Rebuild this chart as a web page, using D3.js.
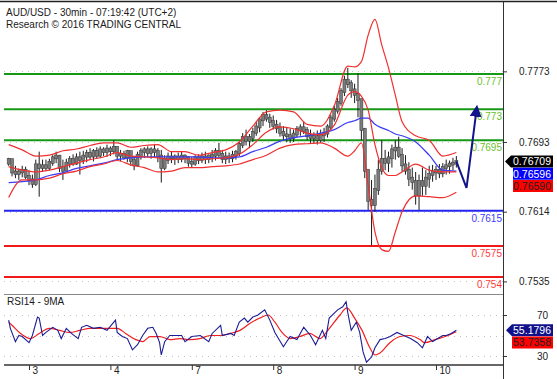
<!DOCTYPE html>
<html><head><meta charset="utf-8">
<script src="https://cdn.jsdelivr.net/npm/d3@7"></script>
<style>body{margin:0;background:#fff}svg{display:block;font-family:"Liberation Sans",Arial,sans-serif}</style>
</head><body><svg id="c" width="557" height="379"></svg>
<script>
const titleText = "AUD/USD - 30min - 07:19:42 (UTC+2)";
const subtitleText = "Research © 2016 TRADING CENTRAL";
const rsiTitle = "RSI14 - 9MA";
const dayLabels = ["3","4","7","8","9","10"];
const dayIdx = [6,30,54,78,102,126];
const priceTicks = [0.7773,0.7693,0.7614,0.7535];
const rsiTicks = [70,30];
const rsiGrid = [70,50,30];

const firstOpen = 0.7669;
const high = [0.7675,0.7673,0.7666,0.7663,0.7666,0.7665,0.7661,0.7656,0.7673,0.7682,
0.7673,0.7673,0.7674,0.7678,0.7682,0.7678,0.7673,0.7674,0.7677,0.7679,
0.7680,0.7682,0.7683,0.7684,0.7686,0.7685,0.7687,0.7688,0.7687,0.7690,
0.7688,0.7695,0.7686,0.7684,0.7683,0.7684,0.7682,0.7677,0.7682,0.7686,
0.7687,0.7688,0.7687,0.7690,0.7686,0.7684,0.7678,0.7681,0.7682,0.7679,
0.7681,0.7682,0.7679,0.7677,0.7676,0.7678,0.7679,0.7681,0.7682,0.7679,
0.7684,0.7686,0.7692,0.7684,0.7682,0.7681,0.7683,0.7684,0.7693,0.7703,
0.7707,0.7702,0.7709,0.7716,0.7721,0.7727,0.7729,0.7725,0.7723,0.7718,
0.7715,0.7711,0.7709,0.7708,0.7707,0.7711,0.7713,0.7716,0.7710,0.7707,
0.7704,0.7706,0.7707,0.7709,0.7713,0.7724,0.7734,0.7743,0.7754,0.7768,
0.7777,0.7763,0.7759,0.7771,0.7741,0.7709,0.7661,0.7650,0.7656,0.7673,
0.7695,0.7684,0.7682,0.7690,0.7695,0.7699,0.7686,0.7678,0.7670,0.7664,
0.7659,0.7656,0.7664,0.7661,0.7666,0.7667,0.7666,0.7668,0.7669,0.7673,
0.7672,0.7675,0.7677];
const low = [0.7666,0.7654,0.7652,0.7650,0.7653,0.7651,0.7644,0.7641,0.7643,0.7631,
0.7659,0.7660,0.7661,0.7666,0.7669,0.7659,0.7650,0.7659,0.7664,0.7666,
0.7667,0.7656,0.7668,0.7670,0.7673,0.7671,0.7674,0.7675,0.7677,0.7676,
0.7677,0.7679,0.7673,0.7671,0.7673,0.7670,0.7666,0.7661,0.7665,0.7673,
0.7675,0.7676,0.7674,0.7675,0.7670,0.7647,0.7661,0.7668,0.7669,0.7667,
0.7669,0.7670,0.7669,0.7665,0.7664,0.7666,0.7668,0.7669,0.7668,0.7669,
0.7670,0.7672,0.7675,0.7669,0.7668,0.7669,0.7670,0.7673,0.7677,0.7686,
0.7689,0.7686,0.7693,0.7700,0.7704,0.7711,0.7716,0.7709,0.7707,0.7703,
0.7699,0.7695,0.7693,0.7692,0.7693,0.7698,0.7700,0.7702,0.7695,0.7692,
0.7691,0.7690,0.7692,0.7693,0.7698,0.7707,0.7716,0.7725,0.7734,0.7745,
0.7754,0.7743,0.7737,0.7721,0.7695,0.7652,0.7616,0.7576,0.7614,0.7633,
0.7656,0.7661,0.7659,0.7664,0.7673,0.7675,0.7659,0.7656,0.7643,0.7639,
0.7622,0.7616,0.7632,0.7633,0.7641,0.7648,0.7650,0.7652,0.7653,0.7656,
0.7657,0.7661,0.7664];
const close = [0.7673,0.7659,0.7657,0.7659,0.7661,0.7654,0.7650,0.7646,0.7667,0.7664,
0.7666,0.7664,0.7670,0.7675,0.7677,0.7664,0.7661,0.7669,0.7673,0.7669,
0.7675,0.7673,0.7677,0.7680,0.7677,0.7682,0.7678,0.7684,0.7682,0.7685,
0.7683,0.7687,0.7678,0.7679,0.7676,0.7682,0.7672,0.7667,0.7678,0.7682,
0.7684,0.7681,0.7684,0.7682,0.7677,0.7664,0.7673,0.7676,0.7675,0.7676,
0.7674,0.7677,0.7675,0.7670,0.7669,0.7675,0.7673,0.7676,0.7674,0.7677,
0.7678,0.7682,0.7679,0.7674,0.7676,0.7675,0.7678,0.7681,0.7690,0.7698,
0.7695,0.7698,0.7704,0.7710,0.7718,0.7723,0.7720,0.7716,0.7712,0.7709,
0.7704,0.7701,0.7700,0.7698,0.7702,0.7707,0.7709,0.7706,0.7700,0.7698,
0.7699,0.7696,0.7701,0.7703,0.7710,0.7720,0.7729,0.7738,0.7750,0.7763,
0.7759,0.7752,0.7747,0.7741,0.7707,0.7661,0.7627,0.7622,0.7639,0.7661,
0.7673,0.7670,0.7675,0.7684,0.7686,0.7678,0.7667,0.7661,0.7652,0.7648,
0.7633,0.7648,0.7644,0.7652,0.7656,0.7659,0.7661,0.7658,0.7664,0.7666,
0.7668,0.7669,0.76709];

const bandIdx = [0,4,8,12,16,20,24,28,32,36,40,44,48,52,56,60,64,68,72,76,80,84,88,92,96,100,102,104,106,108,110,112,114,116,120,124,128,132];
const bbUpper = [0.7690,0.7684,0.7677,0.7678,0.7683,0.7685,0.7689,0.7692,0.7692,0.7687,0.7689,0.7690,0.7682,0.7682,0.7678,0.7681,0.7684,0.7693,0.7711,0.7727,0.7729,0.7727,0.7713,0.7711,0.7734,0.7779,0.7778,0.7784,0.7814,0.7832,0.7803,0.7777,0.7746,0.7716,0.7700,0.7695,0.7677,0.7681];
const bbMiddle = [0.7665,0.7661,0.7659,0.7661,0.7665,0.7669,0.7673,0.7676,0.7681,0.7677,0.7676,0.7675,0.7673,0.7674,0.7673,0.7674,0.7675,0.7679,0.7690,0.7704,0.7710,0.7708,0.7703,0.7701,0.7712,0.7746,0.7750,0.7745,0.7729,0.7690,0.7664,0.7655,0.7655,0.7659,0.7668,0.7661,0.7659,0.7659];
const bbLower = [0.7630,0.7650,0.7650,0.7652,0.7657,0.7660,0.7665,0.7668,0.7672,0.7667,0.7664,0.7659,0.7660,0.7664,0.7664,0.7665,0.7666,0.7668,0.7673,0.7678,0.7686,0.7690,0.7691,0.7692,0.7686,0.7677,0.7683,0.7692,0.7644,0.7591,0.7571,0.7569,0.7591,0.7614,0.7632,0.7631,0.7630,0.7636];
const maBlue = [0.7647,0.7648,0.7650,0.7655,0.7658,0.7663,0.7666,0.7669,0.7673,0.7675,0.7676,0.7676,0.7676,0.7676,0.7676,0.7675,0.7675,0.7676,0.7682,0.7687,0.7694,0.7698,0.7700,0.7703,0.7707,0.7715,0.7717,0.7720,0.7720,0.7713,0.7709,0.7706,0.7702,0.7700,0.7693,0.7678,0.7661,0.7660];

const levels = [0.777,0.773,0.7695,0.7615,0.7575,0.754];
const levelLabels = ["0.777","0.773","0.7695","0.7615","0.7575","0.754"];
const levelKinds = ["r","r","r","p","s","s"];

const lastLabels = ["0.76709","0.76596","0.76590"];

const forecastIdx = [132,135,138];
const forecastPrice = [0.76709,0.7641,0.7731];

const rsiIdx = [0,0.5,2,3,4,6,7,8.5,9,10,11,13,14.5,15.5,17,18.5,20.5,21.5,23,25,27,29,31.5,32,33.5,35,36.5,38,39.5,41,42.5,43.5,44.5,45,46,47.5,49.5,51,52,54,56.5,59,60,62.5,63,65.5,66.5,68,69.5,70.5,72,73.5,75.5,77,78.5,81,83,85,87,89,90.5,92.5,93.5,94.5,97,98.5,99.5,100,101,102.5,103.5,104.5,105.5,107,108,109.5,111,112.5,114.5,116.5,118.5,120.5,122,123.5,125,126.5,128,129,130.5,132];
const rsiVals = [65,57,44,50,49,43,50,68,67,50,53,58,55,47,57,52,47,58,60,57,58,55,65,53,49,47,36,41,50,57,58,52,43,31,44,50,50,50,44,49,50,44,52,60,50,52,50,63,67,63,68,70,75,65,53,39,49,46,58,50,41,55,47,67,75,78,83,72,55,63,53,34,24,29,38,46,47,49,53,50,47,43,38,49,44,47,50,50,52,55.1796];
const rsiMaIdx = [0,1,3.5,6.5,9,12,15,18,21,24,27,32,34.5,37.5,39.5,41.7,44.6,47.6,50.5,53.5,56.4,59.4,62.3,65.3,68.2,71.2,74.1,76.5,78.5,80.6,83,85.9,88.8,91.8,94.1,97.7,99.7,102,104.2,106.5,108,109.5,112.4,115.4,118.3,121.3,122.7,125.7,128.7,132];
const rsiMaVals = [63,60,52,47,52,57,55,53,55,57,57,57,52,46,44,49,49,46,47,46,47,50,50,52,55,62,67,70,63,53,47,49,52,47,55,70,77,67,55,38,31,33,43,49,50,46,43,46,49,53.7358];
const rsiLastLabels = ["55.1796","53.7358"];

// ---------- drawing ----------
const svg = d3.select("#c");
const R = 503;
const L = 4;
const x = d3.scaleLinear().domain([6,126]).range([29,436]);
const y = d3.scaleLinear().domain([0.754,0.777]).range([277,74]);
const yr = d3.scaleLinear().domain([30,70]).range([356,315]);

svg.append("rect").attr("width",557).attr("height",379).attr("fill","#fff");
const defs = svg.append("defs");
defs.append("clipPath").attr("id","mainclip")
  .append("rect").attr("x",L).attr("y",3).attr("width",R-L).attr("height",290);

svg.append("text").attr("x",6).attr("y",15.5).attr("font-size",10).attr("fill","#1a1a1a").text(titleText);
svg.append("text").attr("x",6).attr("y",27.5).attr("font-size",10).attr("fill","#1a1a1a").text(subtitleText);

const main = svg.append("g").attr("clip-path","url(#mainclip)");
main.selectAll("line.grid").data(priceTicks).join("line")
  .attr("x1",L).attr("x2",R).attr("y1",d=>Math.round(y(d))+0.5).attr("y2",d=>Math.round(y(d))+0.5)
  .attr("stroke","#c8c8c8").attr("stroke-dasharray","1,5");

const levelColor = {r:"#169a16", p:"#2323f0", s:"#f01818"};
const labelColor = {r:"#6cbf2a", p:"#3b3bff", s:"#ff3b3b"};
main.selectAll("line.lvl").data(levels).join("line")
  .attr("x1",L).attr("x2",R).attr("y1",d=>y(d)).attr("y2",d=>y(d))
  .attr("stroke",(d,i)=>levelColor[levelKinds[i]]).attr("stroke-width",2);

const bars = close.map((c,i)=>({i, o: i===0?firstOpen:close[i-1], h: high[i], l: low[i], c}));
const cg = main.append("g");
cg.selectAll("line.w").data(bars).join("line")
  .attr("x1",d=>x(d.i)).attr("x2",d=>x(d.i))
  .attr("y1",d=>y(Math.max(d.h,d.o,d.c))).attr("y2",d=>y(Math.min(d.l,d.o,d.c)))
  .attr("stroke","#1a1a1a").attr("stroke-width",1);
cg.selectAll("rect.b").data(bars).join("rect")
  .attr("x",d=>x(d.i)-1.5).attr("width",3)
  .attr("y",d=>y(Math.max(d.o,d.c))-1).attr("height",d=>Math.max(2,Math.abs(y(d.o)-y(d.c))+2))
  .attr("fill","#7c7c7c").attr("stroke","#333").attr("stroke-width",0.5);

const lineP = (idx, vals, sc) => d3.line().x((d,i)=>x(idx[i])).y(d=>sc(d)).curve(d3.curveMonotoneX)(vals);
main.append("path").attr("d",lineP(bandIdx,maBlue,y)).attr("fill","none").attr("stroke","#3b3bf5").attr("stroke-width",1.2);
[bbUpper,bbMiddle,bbLower].forEach(a=>{
  main.append("path").attr("d",lineP(bandIdx,a,y)).attr("fill","none").attr("stroke","#f03030").attr("stroke-width",1.2);
});

svg.selectAll("text.lvl").data(levels).join("text")
  .attr("x",R-1).attr("y",d=>y(d)+11).attr("text-anchor","end").attr("font-size",10)
  .attr("fill",(d,i)=>labelColor[levelKinds[i]]).text((d,i)=>levelLabels[i]);

defs.append("marker").attr("id","ah").attr("viewBox","0 0 10 10")
  .attr("refX",7).attr("refY",5).attr("markerWidth",6).attr("markerHeight",6).attr("orient","auto")
  .attr("markerUnits","strokeWidth")
  .append("path").attr("d","M0,0L10,5L0,10z").attr("fill","#14148a");
svg.append("path")
  .attr("d",d3.line().x((d,i)=>x(forecastIdx[i])).y(d=>y(d))(forecastPrice))
  .attr("fill","none").attr("stroke","#14148a").attr("stroke-width",2).attr("marker-end","url(#ah)");

svg.append("line").attr("x1",0).attr("x2",557).attr("y1",1.5).attr("y2",1.5).attr("stroke","#222").attr("stroke-width",1.5);
svg.append("line").attr("x1",R+0.5).attr("x2",R+0.5).attr("y1",2).attr("y2",379).attr("stroke","#333");
svg.append("line").attr("x1",L).attr("x2",R).attr("y1",294.5).attr("y2",294.5).attr("stroke","#888");
svg.append("line").attr("x1",L).attr("x2",R).attr("y1",365).attr("y2",365).attr("stroke","#333").attr("stroke-width",1.5);

const pa = svg.append("g").attr("transform",`translate(${R},0)`)
  .call(d3.axisRight(y).tickValues(priceTicks).tickSize(4).tickPadding(12).tickFormat(d3.format(".4f")));
pa.select(".domain").remove();
pa.selectAll("text").attr("font-size",10).attr("fill","#222").attr("font-family","'Liberation Sans',Arial,sans-serif");
pa.selectAll("line").attr("stroke","#333");

const boxes = [{fill:"#000", tc:"#fff", arrow:true},
               {fill:"#0000ff", tc:"#fff"},
               {fill:"#ff0000", tc:"#222"}];
const by0 = y(0.76709);
boxes.forEach((b,k)=>{
  const cy = by0 + k*12.3;
  const top = cy-6, bot = cy+6;
  const p = b.arrow ? `M${R+2},${cy}L${R+8},${top}L553,${top}L553,${bot}L${R+8},${bot}Z`
                    : `M${R+10},${top}L553,${top}L553,${bot}L${R+10},${bot}Z`;
  svg.append("path").attr("d",p).attr("fill",b.fill);
  svg.append("text").attr("x",551).attr("y",cy+3.8).attr("text-anchor","end").attr("font-size",10.5)
    .attr("fill",b.tc).text(lastLabels[k]);
});

svg.append("text").attr("x",7).attr("y",304.5).attr("font-size",10).attr("fill","#1a1a1a").text(rsiTitle);
svg.selectAll("line.rg").data(rsiGrid).join("line")
  .attr("x1",L).attr("x2",R).attr("y1",d=>Math.round(yr(d))+0.5).attr("y2",d=>Math.round(yr(d))+0.5)
  .attr("stroke","#c0c0c0").attr("stroke-dasharray","1,5");
svg.append("path").attr("d",lineP(rsiMaIdx,rsiMaVals,yr)).attr("fill","none").attr("stroke","#f02020").attr("stroke-width",1.2);
svg.append("path").attr("d",d3.line().x((d,i)=>x(rsiIdx[i])).y(d=>yr(d))(rsiVals)).attr("fill","none").attr("stroke","#1c1c96").attr("stroke-width",1.1);

const ra = svg.append("g").attr("transform",`translate(${R},0)`)
  .call(d3.axisRight(yr).tickValues(rsiTicks).tickSize(4).tickPadding(4));
ra.select(".domain").remove();
ra.selectAll("text").attr("font-size",10).attr("fill","#222").attr("text-anchor","end").attr("x",45)
  .attr("font-family","'Liberation Sans',Arial,sans-serif");
ra.selectAll("line").attr("stroke","#333");

const rby0 = yr(55.1796);
[{fill:"#10108a",tc:"#fff",arrow:true},{fill:"#ff0000",tc:"#222"}].forEach((b,k)=>{
  const cy = rby0 + k*12.3, top = cy-6, bot = cy+6;
  const p = b.arrow ? `M${R+3},${cy}L${R+9},${top}L553,${top}L553,${bot}L${R+9},${bot}Z`
                    : `M${R+9},${top}L553,${top}L553,${bot}L${R+9},${bot}Z`;
  svg.append("path").attr("d",p).attr("fill",b.fill);
  svg.append("text").attr("x",551).attr("y",cy+3.8).attr("text-anchor","end").attr("font-size",10.5)
    .attr("fill",b.tc).text(rsiLastLabels[k]);
});

const xa = svg.append("g").attr("transform","translate(0,365)")
  .call(d3.axisBottom(x).tickValues(dayIdx).tickSize(5).tickFormat((d,i)=>dayLabels[i]));
xa.select(".domain").remove();
xa.selectAll("line").attr("stroke","#333");
xa.selectAll("text").attr("font-size",10).attr("fill","#222").attr("text-anchor","start")
  .attr("x",3).attr("y",2).attr("dy","0.71em").attr("font-family","'Liberation Sans',Arial,sans-serif");
</script></body></html>
